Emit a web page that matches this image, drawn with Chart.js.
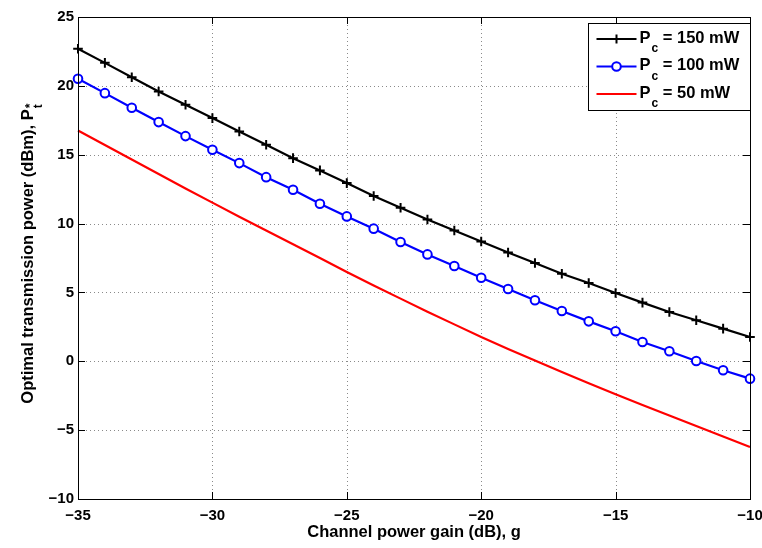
<!DOCTYPE html>
<html>
<head>
<meta charset="utf-8">
<script src="https://cdn.jsdelivr.net/npm/chart.js@4.4.0/dist/chart.umd.min.js"></script>
<style>
  html, body { margin: 0; padding: 0; background: #fff; }
  #wrap { width: 762px; height: 548px; }
</style>
</head>
<body>
<div id="wrap"><canvas id="powerChart" width="762" height="548"></canvas></div>
<script>
// channel gain in dB, one point per dB
const gainDb = [-35, -34, -33, -32, -31, -30, -29, -28, -27, -26, -25, -24, -23,
                -22, -21, -20, -19, -18, -17, -16, -15, -14, -13, -12, -11, -10];

// optimal transmission power (dBm) for each circuit power
const power150 = [22.69, 21.67, 20.63, 19.59, 18.63, 17.66, 16.69, 15.72, 14.75, 13.86,
                  12.94, 12.00, 11.15, 10.30, 9.50, 8.70, 7.90, 7.14, 6.36, 5.68,
                  4.96, 4.26, 3.58, 2.98, 2.37, 1.76];
const power100 = [20.52, 19.47, 18.41, 17.37, 16.35, 15.36, 14.39, 13.37, 12.46, 11.44,
                  10.52, 9.63, 8.66, 7.76, 6.92, 6.07, 5.25, 4.43, 3.65, 2.90,
                  2.18, 1.40, 0.73, 0.02, -0.65, -1.26];
const power50 = [16.76, 15.70, 14.65, 13.60, 12.55, 11.52, 10.50, 9.50, 8.50, 7.50,
                 6.48, 5.50, 4.55, 3.60, 2.68, 1.76, 0.90, 0.05, -0.78, -1.60,
                 -2.39, -3.17, -3.93, -4.70, -5.46, -6.22];

const seriesValues = ['150 mW', '100 mW', '50 mW'];
const xTickValues = [-35, -30, -25, -20, -15, -10];
const yTickValues = [-10, -5, 0, 5, 10, 15, 20, 25];

const FONT = '"Liberation Sans", Arial, Helvetica, sans-serif';
const colors = ['#000000', '#0000ff', '#ff0000'];
const markers = ['cross', 'circle', false];

const toPoints = vals => gainDb.map((g, i) => ({ x: g, y: vals[i] }));
const fmtTick = v => (v < 0 ? '\u2212' + Math.abs(v) : String(v));

// MATLAB-like axes: dotted grid, boxed frame with inward ticks, custom legend and y label
const matlabAxes = {
    id: 'matlabAxes',
    beforeDatasetsDraw(chart) {
        const { ctx, chartArea: a, scales: { x, y } } = chart;
        ctx.save();
        ctx.strokeStyle = '#8a8a8a';
        ctx.lineWidth = 1;
        ctx.setLineDash([1, 3]);
        xTickValues.forEach(v => {
            const px = Math.round(x.getPixelForValue(v)) + 0.5;
            if (px <= a.left + 1 || px >= a.right - 1) return;
            ctx.beginPath();
            ctx.moveTo(px, a.top);
            ctx.lineTo(px, a.bottom);
            ctx.stroke();
        });
        yTickValues.forEach(v => {
            const py = Math.round(y.getPixelForValue(v)) + 0.5;
            if (py <= a.top + 1 || py >= a.bottom - 1) return;
            ctx.beginPath();
            ctx.moveTo(a.left, py);
            ctx.lineTo(a.right, py);
            ctx.stroke();
        });
        ctx.restore();
    },
    afterDatasetsDraw(chart) {
        const { ctx, chartArea: a, scales: { x, y } } = chart;
        const t = 7;
        ctx.save();
        ctx.strokeStyle = '#000';
        ctx.lineWidth = 1;
        ctx.setLineDash([]);
        ctx.strokeRect(Math.round(a.left) + 0.5, Math.round(a.top) + 0.5,
                       Math.round(a.right - a.left), Math.round(a.bottom - a.top));
        ctx.beginPath();
        xTickValues.forEach(v => {
            const px = Math.round(x.getPixelForValue(v)) + 0.5;
            ctx.moveTo(px, a.bottom); ctx.lineTo(px, a.bottom - t);
            ctx.moveTo(px, a.top); ctx.lineTo(px, a.top + t);
        });
        yTickValues.forEach(v => {
            const py = Math.round(y.getPixelForValue(v)) + 0.5;
            ctx.moveTo(a.left, py); ctx.lineTo(a.left + t, py);
            ctx.moveTo(a.right, py); ctx.lineTo(a.right - t, py);
        });
        ctx.stroke();
        ctx.restore();
    },
    afterDraw(chart) {
        const { ctx, chartArea: a } = chart;
        ctx.save();

        // legend box
        const bw = 162, bh = 87;
        const bx = Math.round(a.right - bw) + 0.5, by = Math.round(a.top + 6) + 0.5;
        ctx.fillStyle = '#fff';
        ctx.fillRect(bx, by, bw, bh);
        ctx.strokeStyle = '#000';
        ctx.lineWidth = 1;
        ctx.strokeRect(bx, by, bw, bh);

        chart.data.datasets.forEach((ds, i) => {
            const ly = by + 15.5 + i * 27.5;
            const x0 = bx + 8, x1 = bx + 48, xm = (x0 + x1) / 2;
            ctx.strokeStyle = ds.borderColor;
            ctx.lineWidth = ds.borderWidth;
            ctx.beginPath();
            ctx.moveTo(x0, ly); ctx.lineTo(x1, ly);
            ctx.stroke();
            if (ds.pointStyle === 'cross') {
                ctx.lineWidth = 2;
                ctx.beginPath();
                ctx.moveTo(xm - 4.5, ly); ctx.lineTo(xm + 4.5, ly);
                ctx.moveTo(xm, ly - 4.5); ctx.lineTo(xm, ly + 4.5);
                ctx.stroke();
            } else if (ds.pointStyle === 'circle') {
                ctx.lineWidth = 2;
                ctx.fillStyle = '#fff';
                ctx.beginPath();
                ctx.arc(xm, ly, 4.3, 0, Math.PI * 2);
                ctx.fill();
                ctx.stroke();
            }
            // P_c = ... text
            ctx.fillStyle = '#000';
            ctx.textBaseline = 'alphabetic';
            ctx.textAlign = 'left';
            const base = ly + 3.5;
            let tx = x1 + 3;
            ctx.font = 'bold 16.5px ' + FONT;
            ctx.fillText('P', tx, base);
            tx += ctx.measureText('P').width + 1;
            ctx.font = 'bold 12px ' + FONT;
            ctx.fillText('c', tx, base + 9.5);
            tx += ctx.measureText('c').width;
            ctx.font = 'bold 16.5px ' + FONT;
            ctx.fillText(' = ' + seriesValues[i], tx, base);
        });

        // rotated y axis title with P*_t
        const main = 'Optimal transmission power (dBm), P';
        ctx.font = 'bold 16.5px ' + FONT;
        const wMain = ctx.measureText(main).width;
        ctx.font = 'bold 12px ' + FONT;
        const wSub = ctx.measureText('t').width;
        const total = wMain + 1 + wSub;
        ctx.translate(33, 254);
        ctx.rotate(-Math.PI / 2);
        ctx.fillStyle = '#000';
        ctx.textAlign = 'left';
        ctx.textBaseline = 'alphabetic';
        ctx.font = 'bold 16.5px ' + FONT;
        const sx = -total / 2;
        ctx.fillText(main, sx, 0);
        ctx.font = 'bold 12px ' + FONT;
        ctx.fillText('*', sx + wMain + 1, 1);
        ctx.fillText('t', sx + wMain + 1, 9);
        ctx.restore();
    }
};

const datasets = [power150, power100, power50].map((vals, i) => ({
    label: seriesValues[i],
    data: toPoints(vals),
    borderColor: colors[i],
    backgroundColor: '#ffffff',
    borderWidth: 2.2,
    pointStyle: markers[i],
    pointRadius: markers[i] === 'cross' ? 4.8 : (markers[i] ? 4.3 : 0),
    pointBorderWidth: 2,
    pointBorderColor: colors[i],
    pointBackgroundColor: '#ffffff',
    tension: 0,
    clip: false
}));

new Chart(document.getElementById('powerChart').getContext('2d'), {
    type: 'line',
    data: { datasets },
    options: {
        responsive: false,
        animation: false,
        events: [],
        layout: { padding: { top: 17, right: 12, left: 0, bottom: 0 } },
        plugins: { legend: { display: false }, tooltip: { enabled: false } },
        scales: {
            x: {
                type: 'linear',
                min: -35,
                max: -10,
                afterBuildTicks: s => { s.ticks = xTickValues.map(v => ({ value: v })); },
                afterFit: s => { s.height = 49; s.paddingLeft = 0; s.paddingRight = 0; },
                grid: { display: false, drawTicks: false },
                border: { display: false },
                ticks: {
                    padding: 8,
                    color: '#000',
                    maxRotation: 0,
                    font: { family: FONT, size: 15, weight: 'bold' },
                    callback: fmtTick
                },
                title: {
                    display: true,
                    text: 'Channel power gain (dB), g',
                    color: '#000',
                    padding: { top: 0, bottom: 6 },
                    font: { family: FONT, size: 16.5, weight: 'bold' }
                }
            },
            y: {
                type: 'linear',
                min: -10,
                max: 25,
                afterBuildTicks: s => { s.ticks = yTickValues.map(v => ({ value: v })); },
                afterFit: s => { s.width = 78; s.paddingTop = 0; s.paddingBottom = 0; },
                grid: { display: false, drawTicks: false },
                border: { display: false },
                ticks: {
                    padding: 4,
                    color: '#000',
                    font: { family: FONT, size: 15, weight: 'bold' },
                    callback: fmtTick
                }
            }
        }
    },
    plugins: [matlabAxes]
});
</script>
</body>
</html>
